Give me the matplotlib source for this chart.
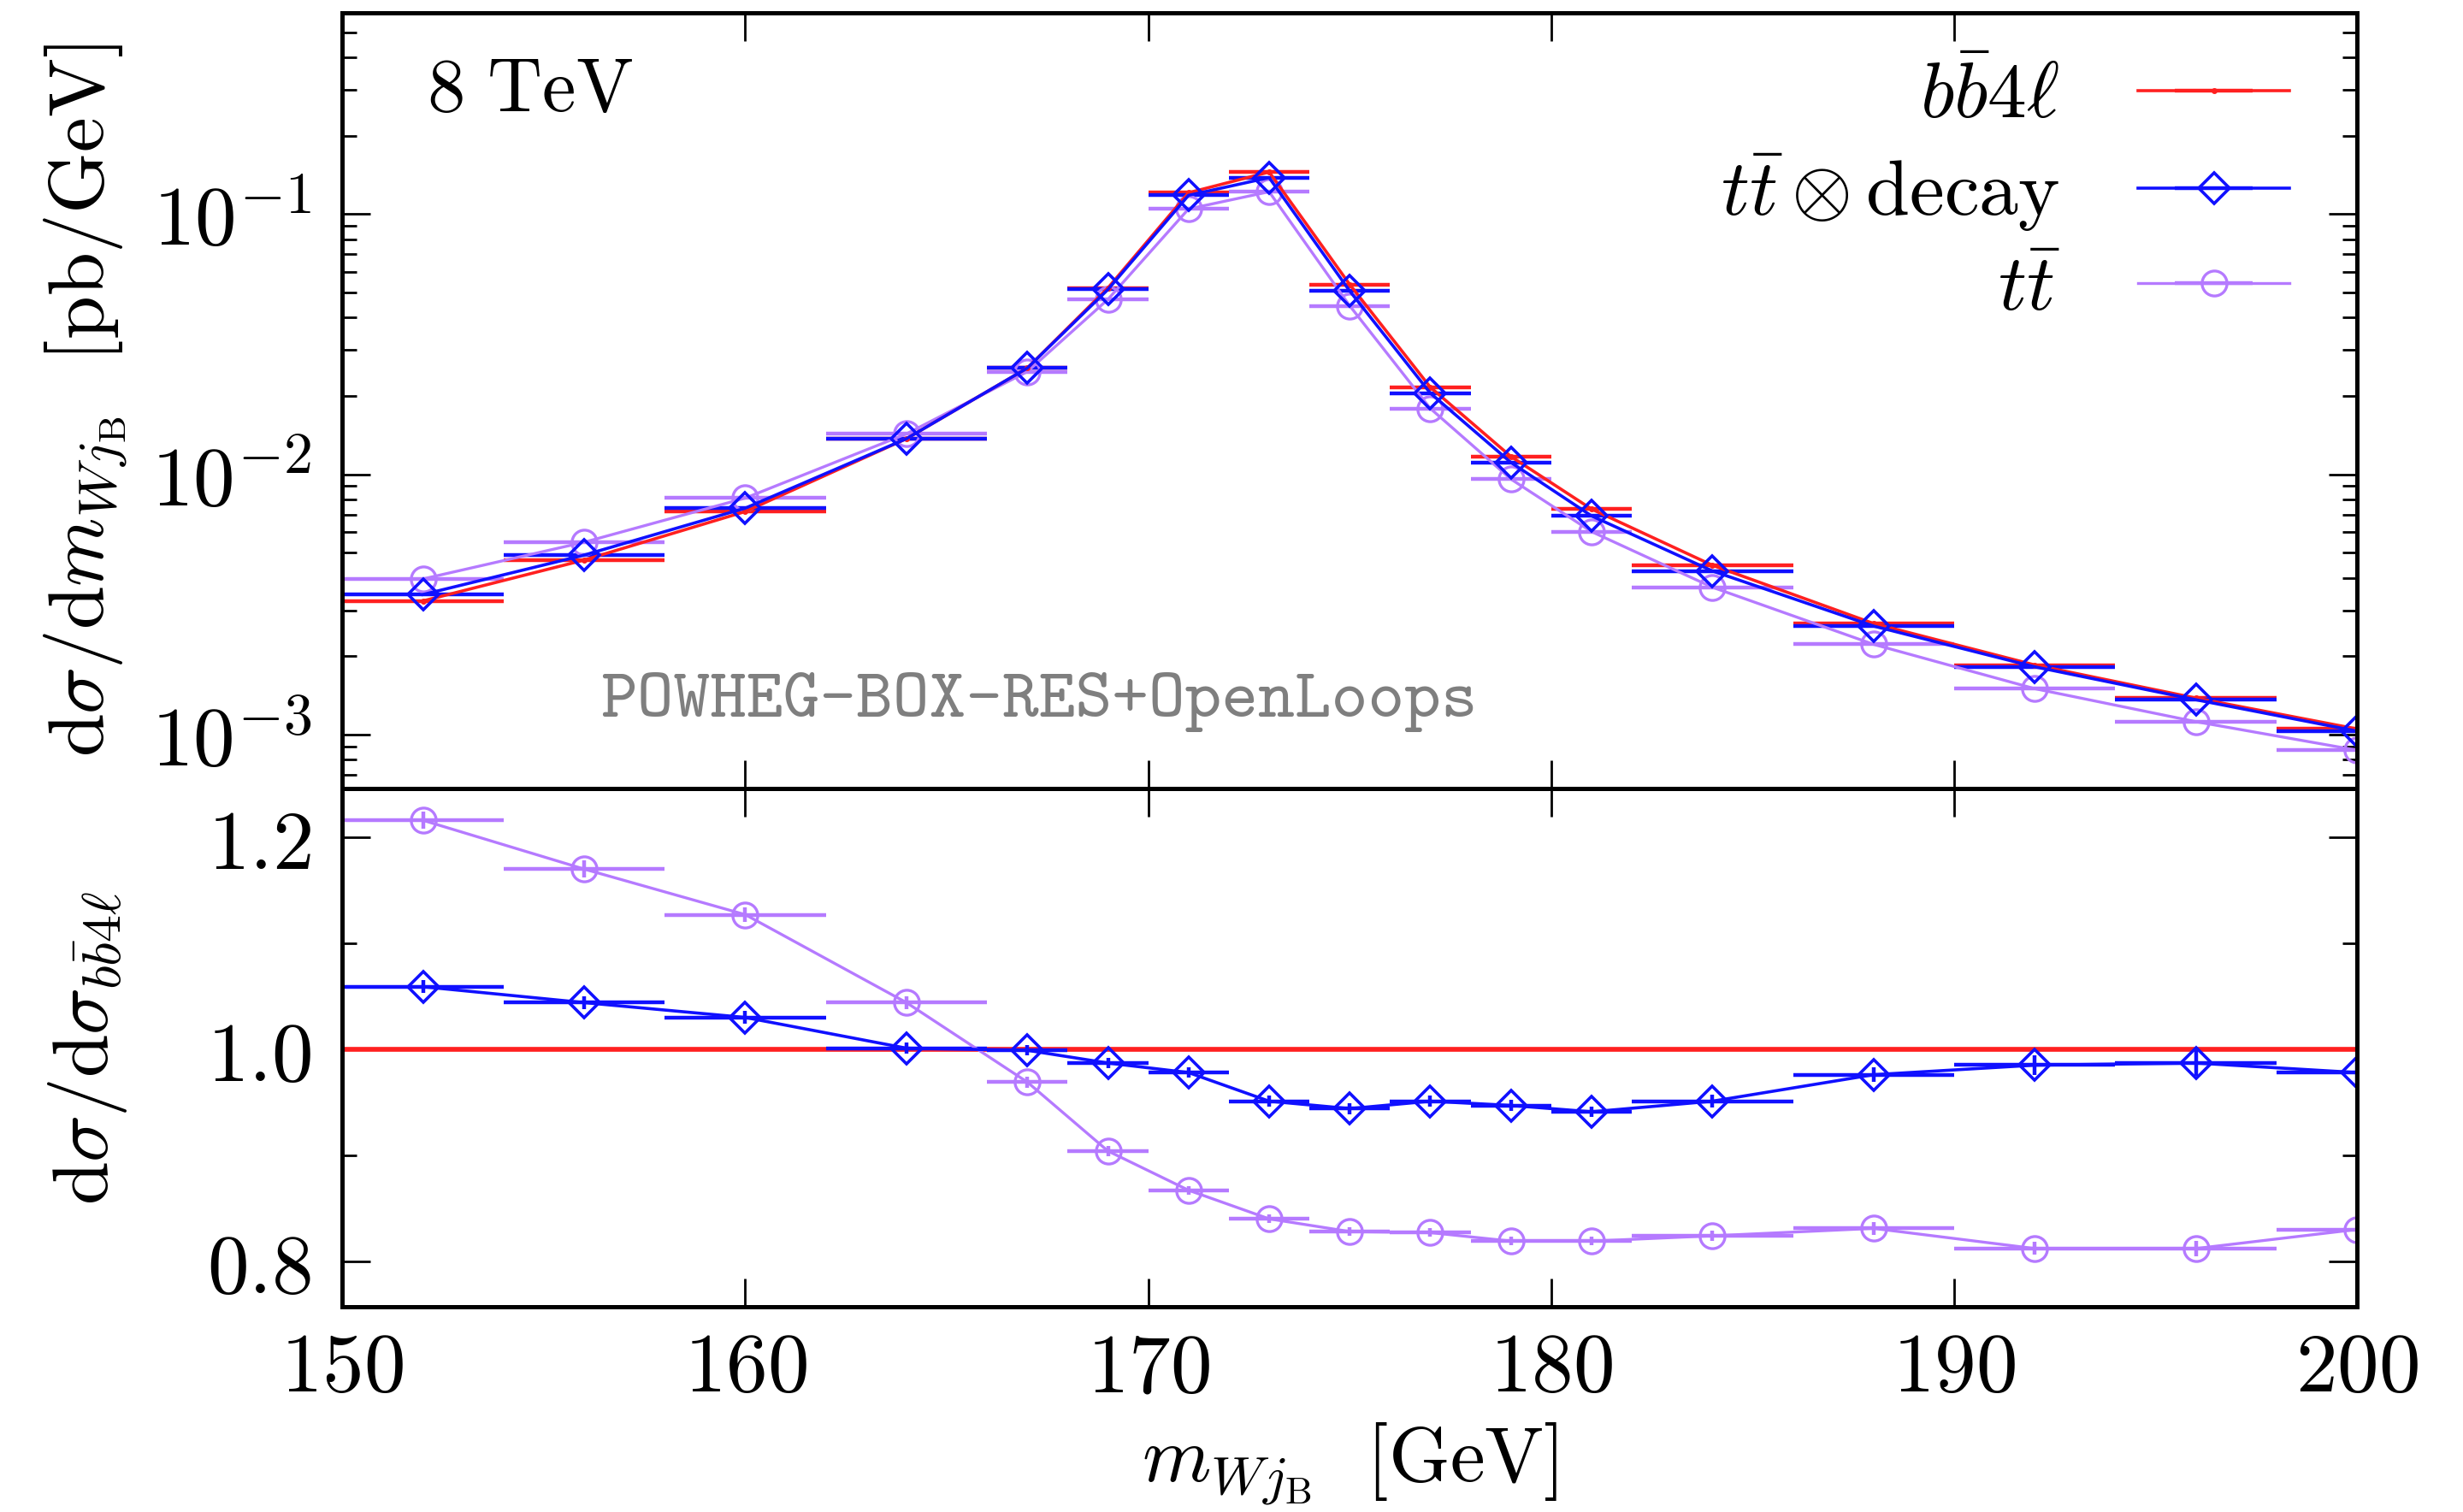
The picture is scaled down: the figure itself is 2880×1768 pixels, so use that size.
import math
import matplotlib
matplotlib.use("Agg")
import matplotlib.pyplot as plt
from matplotlib.ticker import FixedLocator, FuncFormatter, LogLocator, NullFormatter

plt.rcParams["mathtext.fontset"] = "cm"
plt.rcParams["font.family"] = "serif"
plt.rcParams["font.serif"] = ["DejaVu Serif"]

# bin centres and half widths [GeV]
x = [152, 156, 160, 164, 167, 169, 171, 173, 175, 177, 179, 181, 184, 188, 192, 196, 200]
hw = [2, 2, 2, 2, 1, 1, 1, 1, 1, 1, 1, 1, 2, 2, 2, 2, 2]

# d sigma / d m  [pb/GeV]
bb4l = [3.26e-3, 4.68e-3, 7.19e-3, 1.37e-2, 2.56e-2, 5.20e-2, 0.1207, 0.145, 5.36e-2,
        2.16e-2, 1.17e-2, 7.35e-3, 4.47e-3, 2.67e-3, 1.85e-3, 1.38e-3, 1.05e-3]
ttdec = [3.45e-3, 4.89e-3, 7.41e-3, 1.37e-2, 2.56e-2, 5.13e-2, 0.118, 0.138, 5.06e-2,
         2.05e-2, 1.11e-2, 6.92e-3, 4.25e-3, 2.61e-3, 1.82e-3, 1.36e-3, 1.03e-3]
tt = [3.96e-3, 5.48e-3, 8.10e-3, 1.43e-2, 2.48e-2, 4.70e-2, 0.1046, 0.1218, 4.44e-2,
      1.79e-2, 9.58e-3, 6.02e-3, 3.68e-3, 2.22e-3, 1.50e-3, 1.12e-3, 8.7e-4]

# ratios to bb4l
r_bb4l = [1.0] * 17
r_ttdec = [1.059, 1.044, 1.030, 1.001, 0.999, 0.987, 0.978, 0.951, 0.944,
           0.951, 0.947, 0.941, 0.951, 0.976, 0.985, 0.987, 0.978]
r_ttdec_err = [0.006, 0.006, 0.006, 0.005, 0.005, 0.005, 0.005, 0.005, 0.005,
               0.005, 0.005, 0.005, 0.006, 0.007, 0.009, 0.012, 0.010]
r_tt = [1.216, 1.170, 1.127, 1.044, 0.969, 0.904, 0.867, 0.840, 0.828,
        0.827, 0.819, 0.819, 0.824, 0.831, 0.812, 0.812, 0.830]
r_tt_err = [0.008, 0.008, 0.007, 0.006, 0.005, 0.005, 0.004, 0.004, 0.004,
            0.004, 0.004, 0.004, 0.005, 0.006, 0.006, 0.007, 0.008]

RED = "#ff2020"
BLUE = "#1010ff"
PURP = "#b57aff"

fig = plt.figure(figsize=(14.4, 8.84), dpi=200)
ax1 = fig.add_axes([0.139, 0.4785, 0.818, 0.513])
ax2 = fig.add_axes([0.139, 0.1357, 0.818, 0.3428])

fs = 33
tfs = 35
common = dict(capsize=0, elinewidth=1.6)
st_tt = dict(fmt="o", ls="-", color=PURP, lw=1.2, ms=10.5, mfc="none", mew=1.2)
st_dec = dict(fmt="D", ls="-", color=BLUE, lw=1.3, ms=9, mfc="none", mew=1.3)

ax1.errorbar(x, tt, xerr=hw, label=r"$t\bar{t}$", **st_tt, **common)
ax1.errorbar(x, bb4l, xerr=hw, fmt=".", ls="-", color=RED, lw=1.3, ms=3,
             label=r"$b\bar{b}4\ell$", **common)
ax1.errorbar(x, ttdec, xerr=hw, label=r"$t\bar{t}\otimes\mathrm{decay}$", **st_dec, **common)

ax2.errorbar(x, r_tt, xerr=hw, yerr=r_tt_err, **st_tt, **common)
ax2.errorbar(x, r_bb4l, xerr=hw, fmt="none", color=RED, **common)
ax2.plot([150, 200], [r_bb4l[0], r_bb4l[-1]], color=RED, lw=2.0)
ax2.errorbar(x, r_ttdec, xerr=hw, yerr=r_ttdec_err, **st_dec, **common)

ax1.set_yscale("log")
ax1.set_ylim(6.2e-4, 0.593)
ax2.set_ylim(0.757, 1.246)
for ax in (ax1, ax2):
    ax.set_xlim(150, 200)
    ax.xaxis.set_major_locator(FixedLocator([150, 160, 170, 180, 190, 200]))
    ax.tick_params(which="both", direction="in", top=True, right=True,
                   labelsize=tfs, pad=13, width=1.0)
    ax.tick_params(axis="x", pad=9)
    ax.tick_params(which="major", length=12)
    ax.tick_params(which="minor", length=6)
    for s in ax.spines.values():
        s.set_linewidth(1.8)

ax1.yaxis.set_major_locator(LogLocator(base=10, numticks=10))
ax1.yaxis.set_minor_locator(LogLocator(base=10, subs=range(2, 10), numticks=20))
ax1.yaxis.set_minor_formatter(NullFormatter())
ax1.yaxis.set_major_formatter(FuncFormatter(lambda v, p: r"$10^{%d}$" % round(math.log10(v))))
ax1.set_xticklabels([])

ax2.yaxis.set_major_locator(FixedLocator([0.8, 1.0, 1.2]))
ax2.yaxis.set_minor_locator(FixedLocator([0.9, 1.1]))
ax2.yaxis.set_major_formatter(FuncFormatter(lambda v, p: r"$%.1f$" % v))
ax2.xaxis.set_major_formatter(FuncFormatter(lambda v, p: r"$%d$" % v))

ax1.set_ylabel(r"$\mathrm{d}\sigma/\mathrm{d}m_{Wj_{\mathrm{B}}}\ \ [\mathrm{pb/GeV}]$", fontsize=fs)
ax2.set_ylabel(r"$\mathrm{d}\sigma/\mathrm{d}\sigma_{b\bar{b}4\ell}$", fontsize=fs)
ax1.yaxis.set_label_coords(-0.106, 0.5)
ax2.yaxis.set_label_coords(-0.106, 0.5)
ax2.set_xlabel(r"$m_{Wj_{\mathrm{B}}}\ \ [\mathrm{GeV}]$", fontsize=fs)
ax2.xaxis.set_label_coords(0.5, -0.22)

ax1.text(0.042, 0.90, r"$\mathrm{8\ TeV}$", transform=ax1.transAxes, fontsize=32,
         va="center", ha="left")
ax1.text(0.128, 0.111, "POWHEG-BOX-RES+OpenLoops", transform=ax1.transAxes,
         fontsize=29.3, family="cmtt10", color="#7f7f7f", va="center", ha="left")

h, l = ax1.get_legend_handles_labels()
order = [1, 2, 0]
ax1.legend([h[i] for i in order], [l[i] for i in order], loc="upper right",
           bbox_to_anchor=(0.982, 0.981), frameon=False, markerfirst=False,
           fontsize=fs, handlelength=1.93, borderaxespad=0, labelspacing=0.22,
           handletextpad=1.0)

fig.savefig("out.png", dpi=200)
